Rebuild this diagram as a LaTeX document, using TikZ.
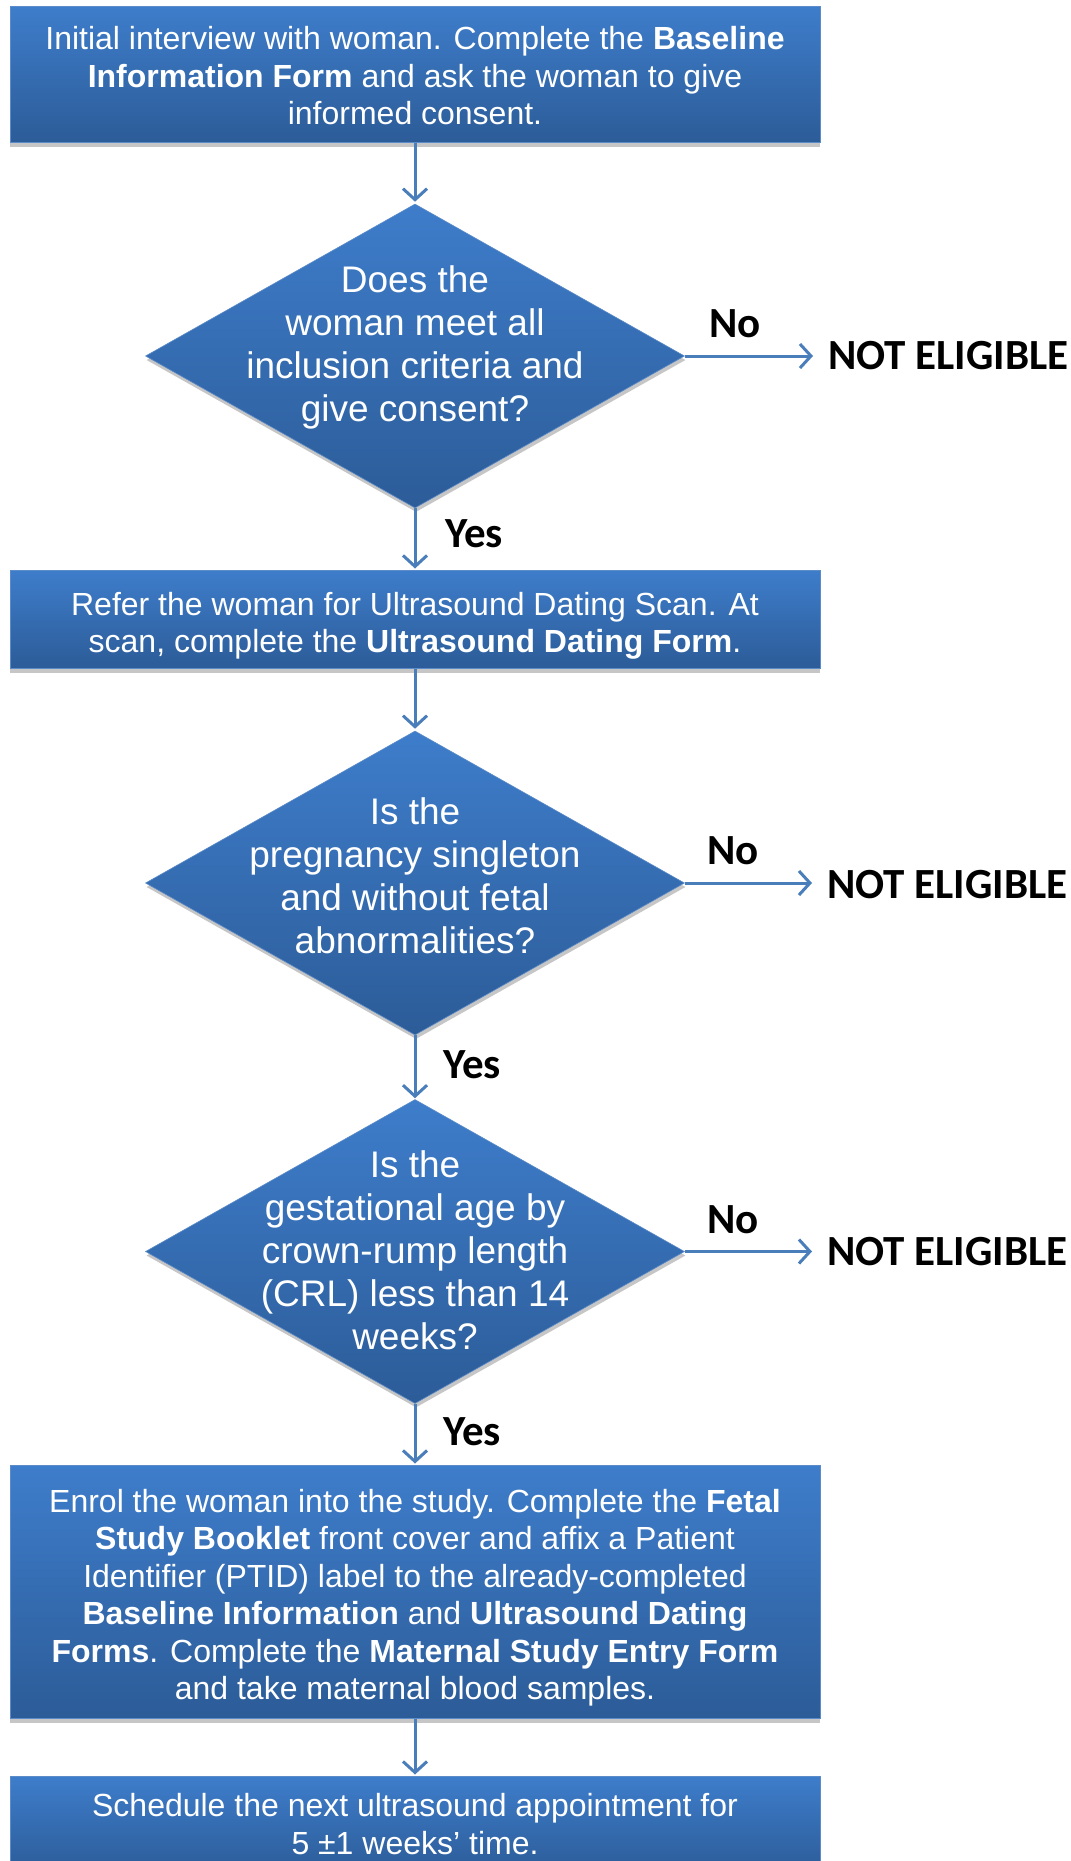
\documentclass[tikz,border=0pt]{standalone}
\usepackage{fontspec}
\setmainfont{Liberation Sans}
\newfontfamily\calib{Carlito}
\usetikzlibrary{shapes.geometric,arrows.meta,shadows}
\definecolor{topblue}{HTML}{3E7DCB}
\definecolor{botblue}{HTML}{2C5C98}
\definecolor{edgeblue}{HTML}{5B8BC8}
\definecolor{arrblue}{HTML}{4A7EBB}
\definecolor{shad}{HTML}{C6C6C6}
\tikzset{
  boxsty/.style={rectangle, draw=edgeblue, line width=1pt, top color=topblue, bottom color=botblue,
    minimum width=810pt, inner sep=0pt, text=white, align=center,
    font=\fontsize{32}{37.5}\selectfont,
    drop shadow={shadow xshift=0pt, shadow yshift=-5pt, fill=shad, opacity=1}},
  btext/.style={text=white, align=center, inner sep=0pt, font=\fontsize{32}{37.5}\selectfont},
  diasty/.style={diamond, draw=edgeblue, line width=0.6pt, top color=topblue, bottom color=botblue,
    minimum width=539pt, minimum height=304pt, inner sep=0pt,
    drop shadow={shadow xshift=1pt, shadow yshift=-4pt, fill=shad, opacity=1}},
  dtext/.style={text=white, align=center, inner sep=0pt, font=\fontsize{37}{43}\selectfont},
  lab/.style={inner sep=0pt, text=black, font=\calib\bfseries\fontsize{43}{49}\selectfont},
  arr/.style={draw=arrblue, line width=3pt, -{Straight Barb[length=11pt,width=24pt,line width=3pt]}}
}
\begin{document}
\begin{tikzpicture}[x=1pt,y=-1pt]
\useasboundingbox (0,0) rectangle (1071,1861);
\clip (0,0) rectangle (1071,1861);
\fill[white] (0,0) rectangle (1071,1861);

\node[boxsty, minimum height=136pt] (b1) at (415,74) {};
\node[btext] (tb1) at (415,76)
  {Initial interview with woman. Complete the \textbf{Baseline}\\
   \textbf{Information Form} and ask the woman to give\\
   informed consent.};

\node[diasty] (d1) at (415,356) {};
\node[dtext] (t1) at (415,347) {Does the\\woman meet all\\inclusion criteria and\\give consent?};

\node[boxsty, minimum height=98pt] (b2) at (415,619) {};
\node[btext] (tb2) at (415,626)
  {Refer the woman for Ultrasound Dating Scan. At\\
   scan, complete the \textbf{Ultrasound Dating Form}.};

\node[diasty] (d2) at (415,883) {};
\node[dtext] (t2) at (415,876) {Is the\\pregnancy singleton\\and without fetal\\abnormalities?};

\node[diasty] (d3) at (415,1251.5) {};
\node[dtext] (t3) at (415,1250) {Is the\\gestational age by\\crown-rump length\\(CRL) less than 14\\weeks?};

\node[boxsty, minimum height=253pt] (b3) at (415,1591.5) {};
\node[btext] (tb3) at (415,1597.5)
  {Enrol the woman into the study. Complete the \textbf{Fetal}\\
   \textbf{Study Booklet} front cover and affix a Patient\\
   Identifier (PTID) label to the already-completed\\
   \textbf{Baseline Information} and \textbf{Ultrasound Dating}\\
   \textbf{Forms}. Complete the \textbf{Maternal Study Entry Form}\\
   and take maternal blood samples.};

\node[boxsty, minimum height=97pt] (b4) at (415,1824.5) {};
\node[btext] (tb4) at (415,1824)
  {Schedule the next ultrasound appointment for\\
   5 ±1 weeks’ time.};

% labels
\node[lab, anchor=west] (ne1) at (828,356) {NOT ELIGIBLE};
\node[lab, anchor=west] (ne2) at (827,884.5) {NOT ELIGIBLE};
\node[lab, anchor=west] (ne3) at (827,1251.5) {NOT ELIGIBLE};
\node[lab, anchor=west] (no1) at (709,324) {No};
\node[lab, anchor=west] (no2) at (707,851) {No};
\node[lab, anchor=west] (no3) at (707,1219.5) {No};
\node[lab, anchor=west] (y1) at (445,534) {Yes};
\node[lab, anchor=west] (y2) at (443,1065) {Yes};
\node[lab, anchor=west] (y3) at (443,1432) {Yes};

% connectors
\draw[arr, shorten >=2pt] (b1.south) -- (d1.north);
\draw[arr, shorten >=1pt] (d1.south) -- (b2.north);
\draw[arr, shorten >=2pt] (b2.south) -- (d2.north);
\draw[arr, shorten >=1pt] (d2.south) -- (d3.north);
\draw[arr, shorten >=1pt] (d3.south) -- (b3.north);
\draw[arr, shorten >=1pt] (b3.south) -- (b4.north);
\draw[arr, shorten >=15pt] (d1.east) -- (ne1.west);
\draw[arr, shorten >=15pt] (d2.east) -- (ne2.west |- d2.east);
\draw[arr, shorten >=15pt] (d3.east) -- (ne3.west |- d3.east);
\end{tikzpicture}
\end{document}
